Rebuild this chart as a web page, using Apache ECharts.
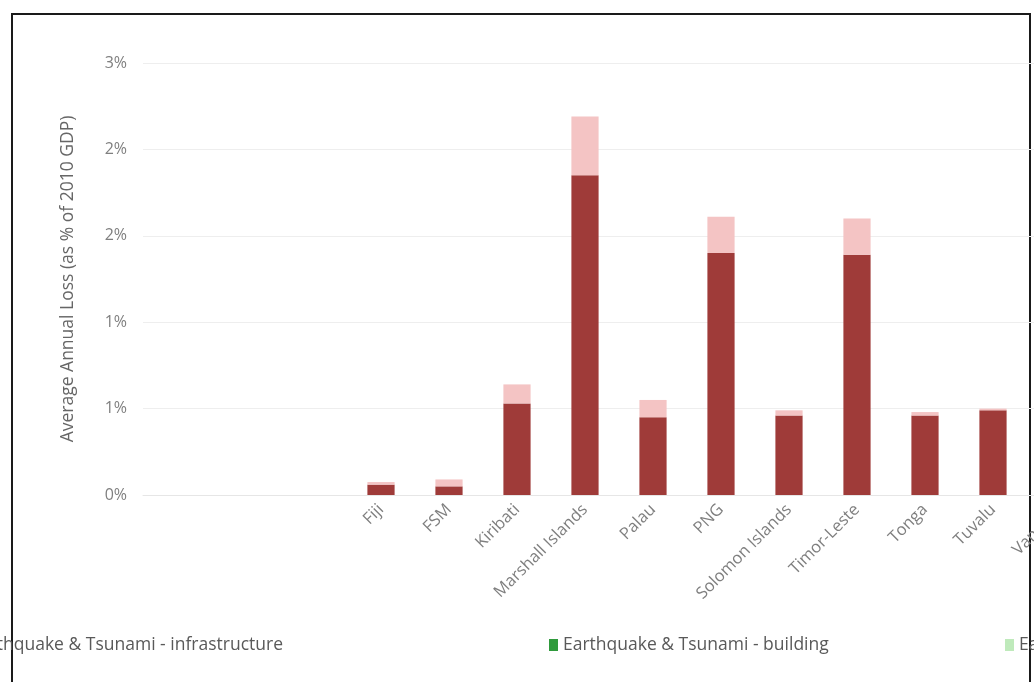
<!DOCTYPE html>
<html>
<head>
<meta charset="utf-8">
<script src="https://cdn.jsdelivr.net/npm/echarts@6/dist/echarts.min.js"></script>
<style>
  html, body { margin: 0; padding: 0; background: #fff; }
  #chart { width: 1034px; height: 682px; }
</style>
</head>
<body>
<div id="chart"></div>
<script>
// countries along the x axis (first three slots are empty in the picture)
var countries = ['', '', '', 'Fiji', 'FSM', 'Kiribati', 'Marshall Islands', 'Palau', 'PNG',
  'Solomon Islands', 'Timor-Leste', 'Tonga', 'Tuvalu', 'Vanuatu', 'Samoa'];

// average annual loss, % of 2010 GDP
var lossDark = [null, null, null, 0.06, 0.05, 0.53, 1.85, 0.45, 1.40, 0.46, 1.39, 0.46, 0.49, 0.85, 0.27];
var lossLight = [null, null, null, 0.015, 0.04, 0.11, 0.34, 0.10, 0.21, 0.03, 0.21, 0.02, 0.01, 0.15, 0.16];
var eqBuilding = [null, null, null, 0, 0, 0, 0, 0, 0, 0, 0, 0, 0, 0, 0];
var eqOther = [null, null, null, 0, 0, 0, 0, 0, 0, 0, 0, 0, 0, 0, 0];

var yTicks = { min: 0, max: 2.5, interval: 0.5 };

var font = '"Open Sans", sans-serif';
var chart = echarts.init(document.getElementById('chart'));

var legendText = { fontFamily: font, fontSize: 17.5, color: '#595959' };

var option = {
  animation: false,
  textStyle: { fontFamily: font },
  graphic: [{
    type: 'rect', z: -1,
    shape: { x: 12, y: 14, width: 1018, height: 720 },
    style: { fill: 'none', stroke: '#1a1a1a', lineWidth: 2 }
  }],
  grid: { left: 143, top: 63, width: 1020, bottom: 187, outerBoundsMode: 'none', containLabel: false },
  legend: [
    { data: ['Earthquake & Tsunami - infrastructure'], right: 751, top: 636, padding: 0,
      itemWidth: 9, itemHeight: 12, icon: 'rect', textStyle: legendText },
    { data: ['Earthquake & Tsunami - building'], left: 549, top: 636, padding: 0,
      itemWidth: 9, itemHeight: 12, icon: 'rect', textStyle: legendText },
    { data: ['Earthquake & Tsunami - other'], left: 1005, top: 636, padding: 0,
      itemWidth: 9, itemHeight: 12, icon: 'rect', textStyle: legendText }
  ],
  xAxis: {
    type: 'category',
    data: countries,
    axisLine: { lineStyle: { color: '#e6e6e6' } },
    axisTick: { show: false },
    axisLabel: { rotate: 45, margin: 12, fontSize: 16.5, color: '#7f7f7f', fontFamily: font, interval: 0 }
  },
  yAxis: {
    type: 'value',
    min: yTicks.min, max: yTicks.max, interval: yTicks.interval,
    name: 'Average Annual Loss (as % of 2010 GDP)',
    nameLocation: 'middle', nameGap: 66,
    nameTextStyle: { fontSize: 17.5, color: '#666666', fontFamily: font },
    axisLine: { show: false },
    axisTick: { show: false },
    splitLine: { lineStyle: { color: '#eeeeee' } },
    axisLabel: {
      margin: 16, fontSize: 16, color: '#7f7f7f', fontFamily: font,
      formatter: function (v) { return Math.round(v) + '%'; }
    }
  },
  series: [
    { name: 'Earthquake & Tsunami - infrastructure', type: 'bar', stack: 'aal', barWidth: '40%',
      data: lossDark, itemStyle: { color: '#9f3b39' } },
    { name: 'Tropical Cyclone', type: 'bar', stack: 'aal',
      data: lossLight, itemStyle: { color: '#f4c4c4' } },
    { name: 'Earthquake & Tsunami - building', type: 'bar', stack: 'aal',
      data: eqBuilding, itemStyle: { color: '#2f9a3c' } },
    { name: 'Earthquake & Tsunami - other', type: 'bar', stack: 'aal',
      data: eqOther, itemStyle: { color: '#bfeabb' } }
  ]
};

chart.setOption(option);
</script>
</body>
</html>
